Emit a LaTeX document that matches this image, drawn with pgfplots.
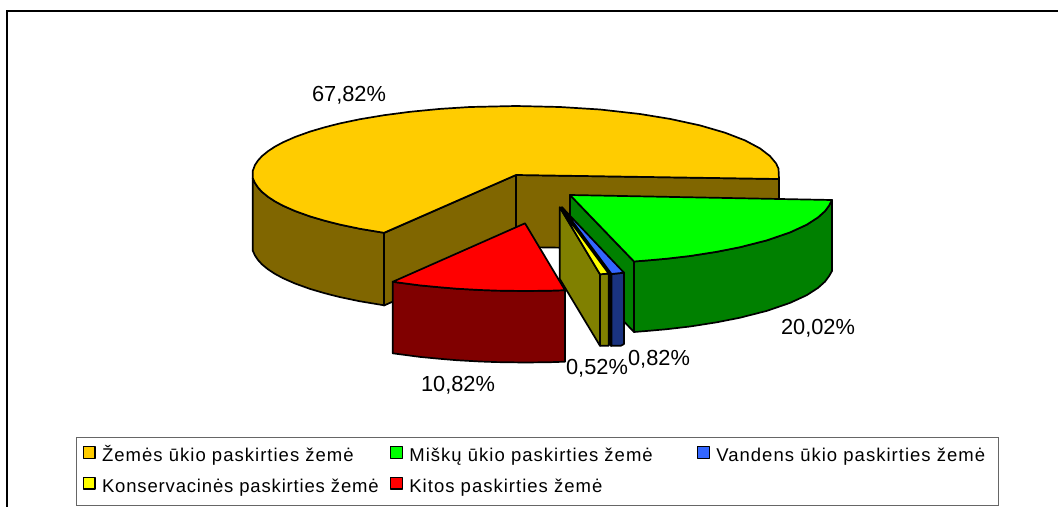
\documentclass[border=0pt]{standalone}
\usepackage{pgfplots}
\pgfplotsset{compat=1.18}
\usepackage{fontspec}
\setmainfont{Liberation Sans}
\newfontfamily\legfont[LetterSpace=5.5]{Liberation Sans}
\newfontfamily\legfontb[LetterSpace=4.5]{Liberation Sans}
\definecolor{cYel}{HTML}{FFCC00}\definecolor{cYelS}{HTML}{806600}
\definecolor{cGrn}{HTML}{00FF00}\definecolor{cGrnS}{HTML}{008000}
\definecolor{cBlu}{HTML}{3366FF}\definecolor{cBluS}{HTML}{1A3380}
\definecolor{cKon}{HTML}{FFFF00}\definecolor{cKonS}{HTML}{808000}
\definecolor{cRed}{HTML}{FF0000}\definecolor{cRedS}{HTML}{800000}
\newcommand\strutA{\rule[-6bp]{0pt}{26bp}}
\begin{document}
\begin{tikzpicture}
\begin{axis}[
  scale only axis, width=1058bp, height=507bp,
  xmin=0, xmax=1058, ymin=0, ymax=507, y dir=reverse,
  hide axis,
  pie/.style={draw=black, line width=1.7bp, line join=round},
  legend columns=3,
  legend cell align=left,
  legend image code/.code={\draw[#1, line width=1.2bp] (0bp,-5.5bp) rectangle (11.5bp,6bp);},
  legend style={at={(axis cs:76.7,435.7)}, anchor=north west,
    draw=none, fill=none,
    inner xsep=6bp, inner ysep=4bp, row sep=5.3bp, column sep=0bp,
    /tikz/every odd column/.append style={column sep=4.5bp},
    font=\fontsize{18.5bp}{20bp}\legfont},
]
% page background (fixes the picture size)
\addplot[forget plot, draw=none, fill=white] coordinates {(0,0)(1058,0)(1058,507)(0,507)} --cycle;
% outer frame
\addplot[forget plot, black, line width=2bp] coordinates {(1058,11.5)(6.5,11.5)(6.5,507)};
% legend frame
\addplot[forget plot, draw=black!60, line width=1.4bp] coordinates {(76.7,437.7)(998.3,437.7)(998.3,505.7)(76.7,505.7)} --cycle;
% ---- Zemes ukio (yellow)
\addplot[forget plot, pie, fill=cYelS] coordinates {(516,175)(779,179)(779,251)(516,247)} --cycle;
\addplot[forget plot, pie, fill=cYelS] coordinates {(384,233)(516,175)(516,247)(384,305.5)} --cycle;
\addplot[forget plot, pie, fill=cYelS] coordinates {(252.7,178)(255,183)(258,187.5)(262,191.9)(268,196.8)(275,201.4)(283,205.7)(295,211)(310,216.4)(325,220.8)(340,224.6)(360,228.8)(384,232.8)(384,305.3)(360,301.3)(340,297.1)(325,293.3)(310,288.9)(295,283.5)(283,278.2)(275,273.9)(268,269.3)(262,264.4)(258,260)(255,255.5)(252.7,250.5)} --cycle;
\addplot[pie, fill=cYel] coordinates {(516,175)(384,232.8)(360,228.8)(340,224.6)(325,220.8)(310,216.4)(295,211)(283,205.7)(275,201.4)(268,196.8)(262,191.9)(258,187.5)(255,183)(252.7,178)(252.7,171)(255,165)(258,160.5)(262,156.1)(268,151.2)(275,146.6)(283,142.3)(295,137)(310,131.6)(325,127.2)(340,123.4)(360,119.2)(384,115.2)(410,111.8)(440,108.9)(470,107)(516,106)(560,107)(600,109.5)(640,114)(670,118.9)(700,125.4)(725,132.7)(745,140.4)(760,148.4)(770,156.1)(776,163.3)(778.5,168.6)(779,179)} --cycle;
\addlegendentry{\strutA\makebox[286.1bp][l]{Žemės ūkio paskirties žemė}}
% ---- Misku ukio (green)
\addplot[forget plot, pie, fill=cGrnS] coordinates {(570,195)(634,261.5)(634,332)(570,265.5)} --cycle;
\addplot[forget plot, pie, fill=cGrnS] coordinates {(634,261.5)(650,260.2)(666.7,258.7)(690,256)(716.7,251.8)(740,247.2)(766.7,240.4)(790,232.4)(806.7,224.7)(818,217.4)(825,211.1)(829,205.7)(832,200)(832,271)(829,276.2)(825,281.6)(818,287.9)(806.7,295.2)(790,302.9)(766.7,310.9)(740,317.7)(716.7,322.3)(690,326.5)(666.7,329.2)(650,330.7)(634,332)} --cycle;
\addplot[pie, fill=cGrn] coordinates {(570,195)(832,200)(829,205.7)(825,211.1)(818,217.4)(806.7,224.7)(790,232.4)(766.7,240.4)(740,247.2)(716.7,251.8)(690,256)(666.7,258.7)(650,260.2)(634,261.5)} --cycle;
\addlegendentry{\strutA\makebox[285.8bp][l]{Miškų ūkio paskirties žemė}}
% ---- Vandens ukio (blue)
\addplot[forget plot, pie, fill=black] coordinates {(562,207.3)(611,274)(611,346)(562,279)} --cycle;
\addplot[forget plot, pie, fill=cBluS] coordinates {(611.5,274)(624,272.7)(624,344)(621,345.7)(611.5,345.7)} --cycle;
\addplot[pie, fill=cBlu] coordinates {(562,207.3)(624,272.7)(611.5,274)} --cycle;
\addlegendentry{\strutA\makebox[274.5bp][l]{Vandens ūkio paskirties žemė}}
% ---- Konservacines (yellow / olive)
\addplot[forget plot, pie, fill=cKonS] coordinates {(559.8,207.3)(600,274.3)(600,345.8)(559.8,279)} --cycle;
\addplot[forget plot, pie, fill=cKonS] coordinates {(600,274.3)(608.7,273.6)(608.7,345.8)(600,345.8)} --cycle;
\addplot[pie, fill=cKon] coordinates {(559.8,207.3)(608.7,273.6)(600,274.3)} --cycle;
\addlegendentry{\strutA\makebox[286.1bp][l]{\legfontb Konservacinės paskirties žemė}}
% ---- Kitos (red)
\addplot[forget plot, pie, fill=cRedS] coordinates {(392.7,281.8)(420,285.4)(440,287.3)(456.7,288.7)(480,290)(496.7,290.6)(525,291)(550,290.7)(565,290.2)(565,361.7)(550,362.2)(525,362.5)(496.7,362.1)(480,361.5)(456.7,360.2)(440,358.8)(420,356.9)(392.7,353.3)} --cycle;
\addplot[pie, fill=cRed] coordinates {(525,223.3)(392.7,281.8)(420,285.4)(440,287.3)(456.7,288.7)(480,290)(496.7,290.6)(525,291)(550,290.7)(565,290.2)} --cycle;
\addlegendentry{\strutA Kitos paskirties žemė}
% ---- value labels
\def\lab{\fontsize{21.8bp}{24bp}\selectfont}
\node[anchor=base, inner sep=0pt, font=\lab] at (axis cs:349,101) {67,82\%};
\node[anchor=base, inner sep=0pt, font=\lab] at (axis cs:818,334) {20,02\%};
\node[anchor=base, inner sep=0pt, font=\lab] at (axis cs:659,365) {0,82\%};
\node[anchor=base, inner sep=0pt, font=\lab] at (axis cs:597,374) {0,52\%};
\node[anchor=base, inner sep=0pt, font=\lab] at (axis cs:458,391) {10,82\%};
\end{axis}
\end{tikzpicture}
\end{document}
